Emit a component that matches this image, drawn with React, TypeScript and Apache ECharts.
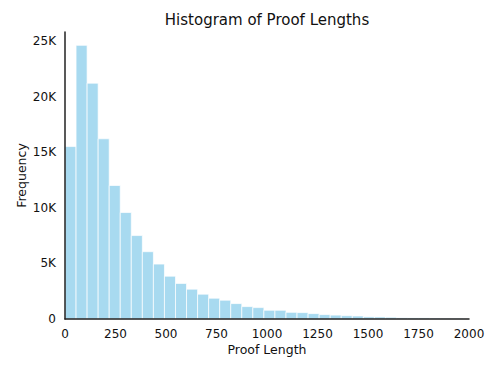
import React, { useEffect, useRef } from "react";
import * as echarts from "echarts";

const TITLE = "Histogram of Proof Lengths";
const X_NAME = "Proof Length";
const Y_NAME = "Frequency";
const BIN_START = 0;
const BIN_WIDTH = 54.7;
const COUNTS = [
  15500, 24600, 21200, 16200, 12000, 9570, 7500, 6050, 4940, 3850,
  3200, 2680, 2230, 1870, 1690, 1385, 1115, 1025, 785, 785,
  600, 575, 485, 395, 350, 300, 270, 195, 185, 160,
  110, 100, 100, 90, 70, 60,
];
const X_MIN = 0;
const X_MAX = 2000;
const X_INTERVAL = 250;
const Y_MIN = 0;
const Y_MAX = 25800;
const Y_INTERVAL = 5000;

const FONT = "DejaVu Sans";

export default function App() {
  const ref = useRef<HTMLDivElement>(null);
  useEffect(() => {
    if (!ref.current) return;
    const chart = echarts.init(ref.current, undefined, { renderer: "svg" });
    const data = COUNTS.map((c, i) => [
      BIN_START + i * BIN_WIDTH,
      BIN_START + (i + 1) * BIN_WIDTH,
      c,
    ]);
    chart.setOption({
      animation: false,
      backgroundColor: "#ffffff",
      title: {
        text: TITLE,
        left: 267,
        top: 12,
        padding: 0,
        textAlign: "center",
        textStyle: { fontFamily: FONT, fontSize: 15, fontWeight: "normal", color: "#111" },
      },
      grid: { left: 65, right: 29, top: 32, bottom: 55 },
      xAxis: {
        type: "value",
        z: 10,
        min: X_MIN,
        max: X_MAX,
        interval: X_INTERVAL,
        name: X_NAME,
        nameLocation: "middle",
        nameGap: 24,
        nameMoveOverlap: false,
        nameTextStyle: { fontFamily: FONT, fontSize: 12.5, color: "#111" },
        axisLine: { show: true, onZero: false, lineStyle: { color: "#222", width: 1.5 } },
        axisTick: { show: false },
        splitLine: { show: false },
        axisLabel: {
          fontFamily: FONT,
          fontSize: 12,
          color: "#111",
          margin: 9,
          formatter: (v: number) => String(v),
        },
      },
      yAxis: {
        type: "value",
        z: 10,
        min: Y_MIN,
        max: Y_MAX,
        interval: Y_INTERVAL,
        name: Y_NAME,
        nameLocation: "middle",
        nameGap: 37,
        nameMoveOverlap: false,
        nameTextStyle: { fontFamily: FONT, fontSize: 12.5, color: "#111" },
        axisLine: { show: true, onZero: false, lineStyle: { color: "#222", width: 1.5 } },
        axisTick: { show: false },
        splitLine: { show: false },
        axisLabel: {
          fontFamily: FONT,
          fontSize: 12,
          color: "#111",
          margin: 9,
          formatter: (v: number) =>
            v % Y_INTERVAL !== 0 ? "" : v === 0 ? "0" : `${v / 1000}K`,
        },
      },
      series: [
        {
          type: "custom",
          z: 1,
          data,
          encode: { x: [0, 1], y: 2 },
          renderItem: (params: any, api: any) => {
            const p0 = api.coord([api.value(0), api.value(2)]);
            const p1 = api.coord([api.value(1), 0]);
            return {
              type: "rect",
              shape: { x: p0[0], y: p0[1], width: p1[0] - p0[0], height: p1[1] - p0[1] },
              style: { fill: "#a8daf0", stroke: "#ffffff", lineWidth: 0.7 },
            };
          },
        },
      ],
    });
    return () => chart.dispose();
  }, []);
  return (
    <div
      ref={ref}
      style={{ position: "fixed", left: 0, top: 0, width: 498, height: 374 }}
    />
  );
}
